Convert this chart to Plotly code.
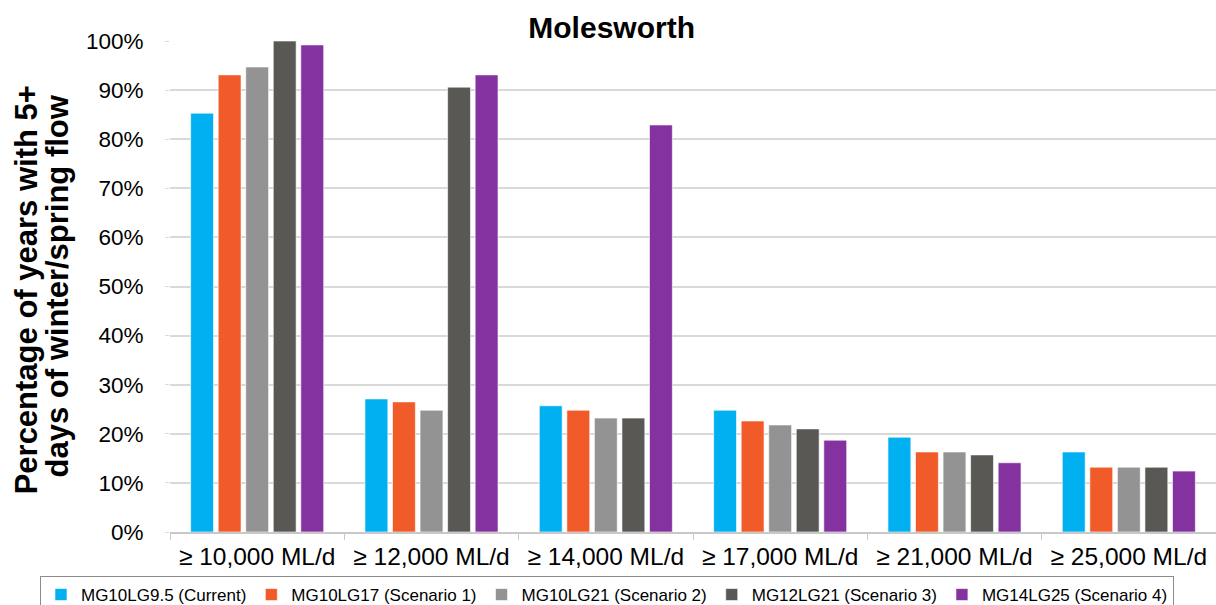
import plotly.graph_objects as go

categories = ["≥ 10,000 ML/d", "≥ 12,000 ML/d", "≥ 14,000 ML/d",
              "≥ 17,000 ML/d", "≥ 21,000 ML/d", "≥ 25,000 ML/d"]

series_names = ["MG10LG9.5 (Current)", "MG10LG17 (Scenario 1)", "MG10LG21 (Scenario 2)",
                "MG12LG21 (Scenario 3)", "MG14LG25 (Scenario 4)"]

current = [85.3, 27.1, 25.7, 24.8, 19.3, 16.3]
scenario1 = [93.1, 26.5, 24.8, 22.6, 16.3, 13.2]
scenario2 = [94.7, 24.8, 23.2, 21.8, 16.3, 13.2]
scenario3 = [100.0, 90.6, 23.2, 21.0, 15.7, 13.2]
scenario4 = [99.2, 93.1, 82.9, 18.7, 14.1, 12.4]

series_values = [current, scenario1, scenario2, scenario3, scenario4]
colors = ["#00B0F0", "#F15A29", "#939393", "#595854", "#8432A0"]

tick_vals = list(range(0, 101, 10))
tick_text = [f"{v}%" for v in tick_vals]

y_title_lines = ["Percentage of years with 5+", "days of winter/spring flow"]

fig = go.Figure()
for name, vals, col in zip(series_names, series_values, colors):
    fig.add_trace(go.Bar(
        x=categories, y=vals, name=name,
        marker=dict(color=col, line=dict(color="rgba(255,255,255,0.6)", width=1)),
    ))

font_family = "Liberation Sans, Arial, sans-serif"

# Two-line rotated axis title, set with tight line spacing
for text, xpos, ypos in zip(y_title_lines, [-0.1368, -0.1071], [0.494, 0.502]):
    fig.add_annotation(
        text=f"<b>{text}</b>", textangle=-90,
        xref="paper", yref="paper", x=xpos, y=ypos,
        xanchor="center", yanchor="middle", showarrow=False,
        font=dict(size=31, family=font_family, color="#000000"),
    )

fig.update_layout(
    width=1216, height=605,
    margin=dict(l=170, r=0, t=41, b=73, autoexpand=False),
    paper_bgcolor="white", plot_bgcolor="white",
    barmode="group", bargap=0.21, bargroupgap=0.17,
    font=dict(family=font_family, color="#000000"),
    title=dict(text="<b>Molesworth</b>", x=0.503, xref="container", xanchor="center",
               y=0.955, yref="container", yanchor="middle",
               font=dict(size=30, family=font_family, color="#000000")),
    xaxis=dict(
        showline=True, linecolor="#C8C8C8", linewidth=1.5,
        ticks="outside", tickson="boundaries", ticklen=6, tickcolor="#C8C8C8",
        tickfont=dict(size=24.5, color="#000000"),
        ticklabelstandoff=2,
        showgrid=False,
    ),
    yaxis=dict(
        range=[0, 100], tickvals=tick_vals, ticktext=tick_text,
        tickfont=dict(size=22.5, color="#000000"),
        showgrid=True, gridcolor="#D9D9D9", gridwidth=1.5,
        ticks="outside", ticklen=4, tickcolor="#D9D9D9",
        ticklabelstandoff=17,
        showline=False, zeroline=False,
    ),
    # legend anchored left of the plot area and below it, so it may span the full width
    legend=dict(
        orientation="h", x=-0.1243, xref="paper", xanchor="left",
        y=-0.0896, yref="paper", yanchor="top",
        bordercolor="#8C8C8C", borderwidth=1,
        font=dict(size=17, color="#000000"),
        itemwidth=30, tracegroupgap=0,
    ),
)

fig.write_html("out.html")
